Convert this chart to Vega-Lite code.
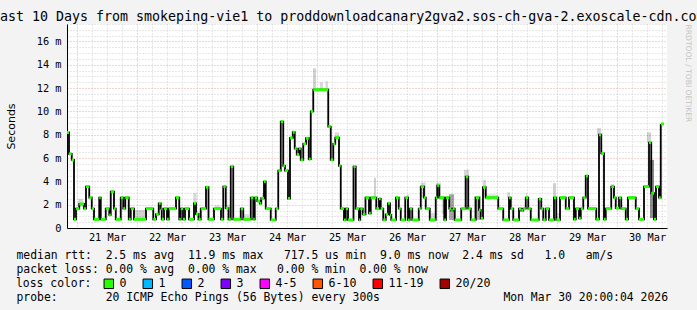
{
  "$schema": "https://vega.github.io/schema/vega-lite/v6.json",
  "autosize": {"type": "none"},
  "width": 600,
  "height": 204,
  "padding": {"left": 67, "top": 24, "right": 30, "bottom": 82},
  "background": "#f3f3f3",
  "title": {
    "text": "Last 10 Days from smokeping-vie1 to proddownloadcanary2gva2.sos-ch-gva-2.exoscale-cdn.com",
    "anchor": "start", "frame": "group", "dx": -75, "offset": -4,
    "font": "DejaVu Sans Mono", "fontSize": 13.3, "fontWeight": "normal", "color": "#000", "limit": 0
  },
  "config": {"view": {"fill": "white", "stroke": null}, "font": "DejaVu Sans Mono"},
  "datasets": {
    "med": [
      {"t0":0,"t1":0.8,"med":8.2,"loss":"0"},
      {"t0":0.8,"t1":1.9,"med":6.36,"loss":"0"},
      {"t0":1.9,"t1":2.8,"med":5.84,"loss":"0"},
      {"t0":2.8,"t1":3.6,"med":0.75,"loss":"0"},
      {"t0":3.6,"t1":4.9,"med":1.66,"loss":"0"},
      {"t0":4.9,"t1":6.8,"med":2.06,"loss":"0"},
      {"t0":6.8,"t1":7.6,"med":1.66,"loss":"0"},
      {"t0":7.6,"t1":8.9,"med":3.55,"loss":"0"},
      {"t0":8.9,"t1":9.9,"med":2.6,"loss":"0"},
      {"t0":9.9,"t1":10.8,"med":1.66,"loss":"0"},
      {"t0":10.8,"t1":12.9,"med":0.75,"loss":"0"},
      {"t0":12.9,"t1":13.5,"med":2.6,"loss":"0"},
      {"t0":13.5,"t1":15.5,"med":0.75,"loss":"0"},
      {"t0":15.5,"t1":16.9,"med":1.66,"loss":"0"},
      {"t0":16.9,"t1":17.5,"med":1.12,"loss":"0"},
      {"t0":17.5,"t1":18.8,"med":3.12,"loss":"0"},
      {"t0":18.8,"t1":19.5,"med":1.66,"loss":"0"},
      {"t0":19.5,"t1":21.5,"med":0.75,"loss":"0"},
      {"t0":21.5,"t1":22.5,"med":2.6,"loss":"0"},
      {"t0":22.5,"t1":23.3,"med":1.66,"loss":"0"},
      {"t0":23.3,"t1":24.7,"med":2.6,"loss":"0"},
      {"t0":24.7,"t1":25.5,"med":0.75,"loss":"0"},
      {"t0":25.5,"t1":26.8,"med":1.66,"loss":"0"},
      {"t0":26.8,"t1":31.6,"med":0.75,"loss":"0"},
      {"t0":31.6,"t1":34.5,"med":1.66,"loss":"0"},
      {"t0":34.5,"t1":35.6,"med":0.75,"loss":"0"},
      {"t0":35.6,"t1":36.7,"med":1.18,"loss":"0"},
      {"t0":36.7,"t1":37.5,"med":2.12,"loss":"0"},
      {"t0":37.5,"t1":37.9,"med":1.66,"loss":"0"},
      {"t0":37.9,"t1":38.8,"med":0.75,"loss":"0"},
      {"t0":38.8,"t1":40,"med":1.66,"loss":"0"},
      {"t0":40,"t1":40.7,"med":0.75,"loss":"0"},
      {"t0":40.7,"t1":43.6,"med":1.66,"loss":"0"},
      {"t0":43.6,"t1":44.9,"med":2.6,"loss":"0"},
      {"t0":44.9,"t1":45.5,"med":0.75,"loss":"0"},
      {"t0":45.5,"t1":46.4,"med":1.66,"loss":"0"},
      {"t0":46.4,"t1":47.2,"med":0.75,"loss":"0"},
      {"t0":47.2,"t1":48.8,"med":1.66,"loss":"0"},
      {"t0":48.8,"t1":50.8,"med":0.75,"loss":"0"},
      {"t0":50.8,"t1":51.6,"med":2.12,"loss":"0"},
      {"t0":51.6,"t1":52.6,"med":1.2,"loss":"0"},
      {"t0":52.6,"t1":53.5,"med":0.75,"loss":"0"},
      {"t0":53.5,"t1":55.6,"med":1.66,"loss":"0"},
      {"t0":55.6,"t1":56.6,"med":3.5,"loss":"0"},
      {"t0":56.6,"t1":58.8,"med":0.75,"loss":"0"},
      {"t0":58.8,"t1":61.6,"med":1.66,"loss":"0"},
      {"t0":61.6,"t1":62.5,"med":0.75,"loss":"0"},
      {"t0":62.5,"t1":63.5,"med":3.55,"loss":"0"},
      {"t0":63.5,"t1":64.6,"med":1.7,"loss":"0"},
      {"t0":64.6,"t1":65.5,"med":0.75,"loss":"0"},
      {"t0":65.5,"t1":66.5,"med":5.27,"loss":"0"},
      {"t0":66.5,"t1":69.5,"med":0.75,"loss":"0"},
      {"t0":69.5,"t1":70.5,"med":1.66,"loss":"0"},
      {"t0":70.5,"t1":73.5,"med":0.75,"loss":"0"},
      {"t0":73.5,"t1":74.5,"med":2.6,"loss":"0"},
      {"t0":74.5,"t1":75.1,"med":0.75,"loss":"0"},
      {"t0":75.1,"t1":76.1,"med":2.6,"loss":"0"},
      {"t0":76.1,"t1":77.2,"med":2.3,"loss":"0"},
      {"t0":77.2,"t1":77.7,"med":2.1,"loss":"0"},
      {"t0":77.7,"t1":78.8,"med":2.55,"loss":"0"},
      {"t0":78.8,"t1":79.5,"med":3.98,"loss":"0"},
      {"t0":79.5,"t1":81.5,"med":1.66,"loss":"0"},
      {"t0":81.5,"t1":83.5,"med":0.69,"loss":"0"},
      {"t0":83.5,"t1":84.5,"med":1.66,"loss":"0"},
      {"t0":84.5,"t1":85.5,"med":4.92,"loss":"0"},
      {"t0":85.5,"t1":86.5,"med":9.13,"loss":"0"},
      {"t0":86.5,"t1":87.2,"med":5.33,"loss":"0"},
      {"t0":87.2,"t1":88.4,"med":4.92,"loss":"0"},
      {"t0":88.4,"t1":89.2,"med":2.52,"loss":"0"},
      {"t0":89.2,"t1":90.3,"med":7.73,"loss":"0"},
      {"t0":90.3,"t1":91.1,"med":8.22,"loss":"0"},
      {"t0":91.1,"t1":91.9,"med":6.81,"loss":"0"},
      {"t0":91.9,"t1":92.8,"med":6.3,"loss":"0"},
      {"t0":92.8,"t1":93.5,"med":6.81,"loss":"0"},
      {"t0":93.5,"t1":94.5,"med":5.84,"loss":"0"},
      {"t0":94.5,"t1":95.6,"med":7.22,"loss":"0"},
      {"t0":95.6,"t1":96.7,"med":7.7,"loss":"0"},
      {"t0":96.7,"t1":97.5,"med":5.9,"loss":"0"},
      {"t0":97.5,"t1":98.5,"med":10.0,"loss":"0"},
      {"t0":98.5,"t1":104.5,"med":11.86,"loss":"0"},
      {"t0":104.5,"t1":105.5,"med":8.7,"loss":"0"},
      {"t0":105.5,"t1":106.5,"med":5.84,"loss":"0"},
      {"t0":106.5,"t1":107.3,"med":7.22,"loss":"0"},
      {"t0":107.3,"t1":108.8,"med":7.76,"loss":"0"},
      {"t0":108.8,"t1":109.5,"med":5.33,"loss":"0"},
      {"t0":109.5,"t1":110.8,"med":1.66,"loss":"0"},
      {"t0":110.8,"t1":111.5,"med":0.69,"loss":"0"},
      {"t0":111.5,"t1":112.4,"med":1.66,"loss":"0"},
      {"t0":112.4,"t1":114.6,"med":0.69,"loss":"0"},
      {"t0":114.6,"t1":115.5,"med":5.27,"loss":"0"},
      {"t0":115.5,"t1":116.8,"med":1.66,"loss":"0"},
      {"t0":116.8,"t1":117.3,"med":0.69,"loss":"0"},
      {"t0":117.3,"t1":118.3,"med":1.66,"loss":"0"},
      {"t0":118.3,"t1":119.4,"med":1.17,"loss":"0"},
      {"t0":119.4,"t1":120.8,"med":2.6,"loss":"0"},
      {"t0":120.8,"t1":121.5,"med":1.26,"loss":"0"},
      {"t0":121.5,"t1":123.7,"med":2.6,"loss":"0"},
      {"t0":123.7,"t1":124.8,"med":1.66,"loss":"0"},
      {"t0":124.8,"t1":125.5,"med":2.5,"loss":"0"},
      {"t0":125.5,"t1":126.5,"med":1.66,"loss":"0"},
      {"t0":126.5,"t1":127.5,"med":0.69,"loss":"0"},
      {"t0":127.5,"t1":128.4,"med":1.17,"loss":"0"},
      {"t0":128.4,"t1":129.2,"med":2.12,"loss":"0"},
      {"t0":129.2,"t1":129.7,"med":1.12,"loss":"0"},
      {"t0":129.7,"t1":131.6,"med":0.69,"loss":"0"},
      {"t0":131.6,"t1":132.7,"med":2.6,"loss":"0"},
      {"t0":132.7,"t1":133.5,"med":1.66,"loss":"0"},
      {"t0":133.5,"t1":135.3,"med":0.69,"loss":"0"},
      {"t0":135.3,"t1":136.4,"med":2.6,"loss":"0"},
      {"t0":136.4,"t1":137.1,"med":0.69,"loss":"0"},
      {"t0":137.1,"t1":138.1,"med":1.66,"loss":"0"},
      {"t0":138.1,"t1":140.7,"med":0.69,"loss":"0"},
      {"t0":140.7,"t1":141.5,"med":1.66,"loss":"0"},
      {"t0":141.5,"t1":142.8,"med":3.55,"loss":"0"},
      {"t0":142.8,"t1":143.5,"med":2.6,"loss":"0"},
      {"t0":143.5,"t1":145.1,"med":1.66,"loss":"0"},
      {"t0":145.1,"t1":147.5,"med":0.69,"loss":"0"},
      {"t0":147.5,"t1":148.1,"med":2.6,"loss":"0"},
      {"t0":148.1,"t1":148.9,"med":3.64,"loss":"0"},
      {"t0":148.9,"t1":150.9,"med":2.6,"loss":"0"},
      {"t0":150.9,"t1":151.6,"med":0.69,"loss":"0"},
      {"t0":151.6,"t1":152.9,"med":2.6,"loss":"0"},
      {"t0":152.9,"t1":153.7,"med":1.66,"loss":"0"},
      {"t0":153.7,"t1":154.3,"med":1.5,"loss":"0"},
      {"t0":154.3,"t1":155.1,"med":1.66,"loss":"0"},
      {"t0":155.1,"t1":157.7,"med":0.69,"loss":"0"},
      {"t0":157.7,"t1":159.5,"med":1.66,"loss":"0"},
      {"t0":159.5,"t1":160.5,"med":4.4,"loss":"0"},
      {"t0":160.5,"t1":161.5,"med":1.66,"loss":"0"},
      {"t0":161.5,"t1":163.5,"med":0.69,"loss":"0"},
      {"t0":163.5,"t1":164.8,"med":2.6,"loss":"0"},
      {"t0":164.8,"t1":165.5,"med":1.55,"loss":"0"},
      {"t0":165.5,"t1":166.4,"med":0.83,"loss":"0"},
      {"t0":166.4,"t1":167.5,"med":3.5,"loss":"0"},
      {"t0":167.5,"t1":172.5,"med":2.6,"loss":"0"},
      {"t0":172.5,"t1":174.5,"med":1.66,"loss":"0"},
      {"t0":174.5,"t1":176.8,"med":0.69,"loss":"0"},
      {"t0":176.8,"t1":177.5,"med":2.6,"loss":"0"},
      {"t0":177.5,"t1":178.5,"med":1.66,"loss":"0"},
      {"t0":178.5,"t1":180.8,"med":0.69,"loss":"0"},
      {"t0":180.8,"t1":181.7,"med":1.66,"loss":"0"},
      {"t0":181.7,"t1":182.5,"med":1.5,"loss":"0"},
      {"t0":182.5,"t1":183.5,"med":1.66,"loss":"0"},
      {"t0":183.5,"t1":184.5,"med":2.6,"loss":"0"},
      {"t0":184.5,"t1":185.5,"med":1.66,"loss":"0"},
      {"t0":185.5,"t1":188.7,"med":0.69,"loss":"0"},
      {"t0":188.7,"t1":189.7,"med":2.5,"loss":"0"},
      {"t0":189.7,"t1":190.5,"med":1.66,"loss":"0"},
      {"t0":190.5,"t1":191.5,"med":0.69,"loss":"0"},
      {"t0":191.5,"t1":192.8,"med":1.66,"loss":"0"},
      {"t0":192.8,"t1":194.8,"med":0.69,"loss":"0"},
      {"t0":194.8,"t1":195.7,"med":2.6,"loss":"0"},
      {"t0":195.7,"t1":197.2,"med":0.69,"loss":"0"},
      {"t0":197.2,"t1":199.5,"med":2.6,"loss":"0"},
      {"t0":199.5,"t1":200.8,"med":1.66,"loss":"0"},
      {"t0":200.8,"t1":202.8,"med":2.6,"loss":"0"},
      {"t0":202.8,"t1":203.5,"med":0.75,"loss":"0"},
      {"t0":203.5,"t1":204.8,"med":1.66,"loss":"0"},
      {"t0":204.8,"t1":205.5,"med":0.83,"loss":"0"},
      {"t0":205.5,"t1":206.5,"med":1.66,"loss":"0"},
      {"t0":206.5,"t1":207.5,"med":2.6,"loss":"0"},
      {"t0":207.5,"t1":208.4,"med":4.47,"loss":"0"},
      {"t0":208.4,"t1":211.7,"med":1.66,"loss":"0"},
      {"t0":211.7,"t1":212.8,"med":0.75,"loss":"0"},
      {"t0":212.8,"t1":213.7,"med":8.0,"loss":"0"},
      {"t0":213.7,"t1":214.8,"med":6.4,"loss":"0"},
      {"t0":214.8,"t1":215.5,"med":0.75,"loss":"0"},
      {"t0":215.5,"t1":217.7,"med":1.66,"loss":"0"},
      {"t0":217.7,"t1":218.8,"med":3.55,"loss":"0"},
      {"t0":218.8,"t1":219.5,"med":2.6,"loss":"0"},
      {"t0":219.5,"t1":220.8,"med":1.7,"loss":"0"},
      {"t0":220.8,"t1":221.7,"med":2.6,"loss":"0"},
      {"t0":221.7,"t1":223.5,"med":1.66,"loss":"0"},
      {"t0":223.5,"t1":224.4,"med":0.75,"loss":"0"},
      {"t0":224.4,"t1":227.5,"med":2.6,"loss":"0"},
      {"t0":227.5,"t1":228.8,"med":1.66,"loss":"0"},
      {"t0":228.8,"t1":230.8,"med":0.75,"loss":"0"},
      {"t0":230.8,"t1":232.8,"med":3.55,"loss":"0"},
      {"t0":232.8,"t1":233.7,"med":7.33,"loss":"0"},
      {"t0":233.7,"t1":234.8,"med":2.98,"loss":"0"},
      {"t0":234.8,"t1":235.6,"med":0.75,"loss":"0"},
      {"t0":235.6,"t1":236.8,"med":3.55,"loss":"0"},
      {"t0":236.8,"t1":237.5,"med":2.6,"loss":"0"},
      {"t0":237.5,"t1":238.8,"med":8.93,"loss":"0"}
    ],
    "smoke": [
      {"t0":4.4,"t1":6.4,"lo":1.8,"hi":2.5,"shade":0.15},
      {"t0":26.8,"t1":31.6,"lo":0.75,"hi":1.55,"shade":0.18},
      {"t0":50.5,"t1":51.9,"lo":1.2,"hi":3.0,"shade":0.15},
      {"t0":59.2,"t1":61.2,"lo":1.66,"hi":1.95,"shade":0.12},
      {"t0":63.2,"t1":65.2,"lo":1.7,"hi":2.0,"shade":0.12},
      {"t0":70.8,"t1":72.8,"lo":0.75,"hi":1.2,"shade":0.12},
      {"t0":78,"t1":79.2,"lo":2.6,"hi":3.0,"shade":0.15},
      {"t0":98.4,"t1":99.6,"lo":11.86,"hi":13.7,"shade":0.18},
      {"t0":101.2,"t1":102.4,"lo":11.86,"hi":12.5,"shade":0.15},
      {"t0":103.4,"t1":104.4,"lo":11.86,"hi":12.6,"shade":0.15},
      {"t0":107.2,"t1":108.8,"lo":7.76,"hi":8.2,"shade":0.15},
      {"t0":122.8,"t1":123.6,"lo":2.6,"hi":4.3,"shade":0.18},
      {"t0":136,"t1":136.8,"lo":2.0,"hi":2.9,"shade":0.12},
      {"t0":141.5,"t1":143.5,"lo":2.6,"hi":3.9,"shade":0.15},
      {"t0":144.8,"t1":147.6,"lo":0.69,"hi":1.3,"shade":0.15},
      {"t0":147.5,"t1":149.6,"lo":2.6,"hi":3.9,"shade":0.15},
      {"t0":149.9,"t1":151.2,"lo":1.2,"hi":2.6,"shade":0.15},
      {"t0":152.8,"t1":154.8,"lo":0.69,"hi":2.9,"shade":0.35},
      {"t0":158.8,"t1":160.8,"lo":1.66,"hi":5.0,"shade":0.15},
      {"t0":162.8,"t1":165.6,"lo":0.7,"hi":2.7,"shade":0.3},
      {"t0":166.4,"t1":167.6,"lo":2.6,"hi":4.1,"shade":0.15},
      {"t0":167.6,"t1":172.4,"lo":2.6,"hi":2.9,"shade":0.12},
      {"t0":176,"t1":177.2,"lo":2.6,"hi":3.07,"shade":0.15},
      {"t0":183.5,"t1":184.1,"lo":2.6,"hi":3.0,"shade":0.15},
      {"t0":194.4,"t1":195.6,"lo":2.6,"hi":3.84,"shade":0.18},
      {"t0":195.6,"t1":197.6,"lo":0.69,"hi":1.3,"shade":0.12},
      {"t0":212,"t1":213.6,"lo":8.0,"hi":8.56,"shade":0.18},
      {"t0":217.6,"t1":218.8,"lo":3.55,"hi":3.78,"shade":0.15},
      {"t0":232,"t1":233.6,"lo":7.33,"hi":8.2,"shade":0.18},
      {"t0":233.2,"t1":234.8,"lo":0.85,"hi":5.84,"shade":0.45}
    ]
  },
  "resolve": {"axis": {"y": "independent"}},
  "encoding": {
    "x": {
      "field": "t0", "type": "quantitative",
      "scale": {"domain": [0, 240], "nice": false},
      "axis": {
        "orient": "bottom", "grid": true,
        "values": [4,10,16,22,28,34,40,46,52,58,64,70,76,82,88,94,100,106,112,118,124,130,136,142,148,154,160,166,172,178,184,190,196,202,208,214,220,226,232,238],
        "labelExpr": "(datum.value - 16) % 24 === 0 ? (21 + (datum.value - 16) / 24) + ' Mar' : ''",
        "gridColor": {"condition": {"test": "(datum.value - 4) % 24 === 0", "value": "#e8a6a6"}, "value": "#d0d0d0"},
        "gridDash": [1, 2],
        "ticks": false,
        "domainColor": "#000000",
        "labelFont": "DejaVu Sans Mono", "labelFontSize": 10.3, "labelColor": "#000000",
        "labelPadding": 4, "labelOverlap": false, "labelFlush": false,
        "title": [
          "median rtt:\u00a0\u00a02.5 ms avg\u00a0\u00a011.9 ms max\u00a0\u00a0\u00a0717.5 us min\u00a0\u00a09.0 ms now\u00a0\u00a02.4 ms sd\u00a0\u00a0\u00a01.0\u00a0\u00a0\u00a0am/s",
          "packet loss: 0.00 % avg\u00a0\u00a00.00 % max\u00a0\u00a0\u00a00.00 % min\u00a0\u00a00.00 % now",
          "\u200b",
          "probe:\u00a0\u00a0\u00a0\u00a0\u00a0\u00a0\u00a020 ICMP Echo Pings (56 Bytes) every 300s\u00a0\u00a0\u00a0\u00a0\u00a0\u00a0\u00a0\u00a0\u00a0\u00a0\u00a0\u00a0\u00a0\u00a0\u00a0\u00a0\u00a0\u00a0Mon Mar 30 20:00:04 2026"
        ],
        "titleFont": "DejaVu Sans Mono", "titleFontSize": 11.4, "titleFontWeight": "normal", "titleColor": "#000000",
        "titleAnchor": "start", "titleAlign": "left", "titleBaseline": "alphabetic",
        "titleX": -51, "titleY": 30, "titleLineHeight": 14, "titleLimit": 2000
      }
    }
  },
  "layer": [
    {
      "data": {"name": "smoke"},
      "mark": {"type": "rect", "fill": "#000"},
      "encoding": {
        "x2": {"field": "t1"},
        "y": {"field": "lo", "type": "quantitative", "scale": {"domain": [0, 17.5], "nice": false}, "axis": null},
        "y2": {"field": "hi"},
        "opacity": {"field": "shade", "type": "quantitative", "scale": null}
      }
    },
    {
      "data": {"name": "med"},
      "mark": {"type": "line", "interpolate": "step-after", "color": "#000000", "strokeWidth": 1.8},
      "encoding": {
        "y": {
          "field": "med", "type": "quantitative",
          "axis": {
            "orient": "left", "grid": true,
            "values": [0,0.5,1,1.5,2,2.5,3,3.5,4,4.5,5,5.5,6,6.5,7,7.5,8,8.5,9,9.5,10,10.5,11,11.5,12,12.5,13,13.5,14,14.5,15,15.5,16,16.5,17,17.5],
            "labelExpr": "datum.value === 0 ? '0' : (datum.value % 2 === 0 ? datum.value + ' m' : '')",
            "gridColor": {"condition": {"test": "datum.value % 2 === 0", "value": "#e8a6a6"}, "value": "#d0d0d0"},
            "gridDash": [1, 2],
            "ticks": false,
            "domainColor": "#000000",
            "labelFont": "DejaVu Sans Mono", "labelFontSize": 10.3, "labelColor": "#000000",
            "labelPadding": 6, "labelOverlap": false, "labelFlush": false,
            "title": "Seconds", "titleFont": "DejaVu Sans", "titleFontSize": 11, "titleFontWeight": "normal", "titleColor": "#000000",
            "titlePadding": 20
          }
        }
      }
    },
    {
      "data": {"name": "med"},
      "mark": {"type": "rect", "height": 3},
      "encoding": {
        "x2": {"field": "t1"},
        "y": {
          "field": "med", "type": "quantitative",
          "axis": {
            "orient": "right", "labels": false, "ticks": false, "domain": false, "grid": false,
            "title": "RRDTOOL / TOBI OETIKER", "titleFont": "DejaVu Sans", "titleFontSize": 7.6, "titleFontWeight": "normal",
            "titleColor": "#c4c4c4", "titleAnchor": "end", "titleAlign": "left", "titleAngle": 90, "titlePadding": 16
          }
        },
        "color": {
          "field": "loss", "type": "nominal",
          "scale": {
            "domain": ["0", "1", "2", "3", "4-5", "6-10", "11-19", "20/20"],
            "range": ["#26ff00", "#00b8ff", "#0059ff", "#7e00ff", "#ff00ff", "#ff5500", "#ff0000", "#a10000"]
          },
          "legend": {
            "orient": "none", "legendX": -51, "legendY": 254, "direction": "horizontal", "gridAlign": "none",
            "title": "loss color:", "titleOrient": "left", "titleFont": "DejaVu Sans Mono", "titleFontSize": 11.4,
            "titleFontWeight": "normal", "titleColor": "#000000", "titlePadding": 11,
            "labelFont": "DejaVu Sans Mono", "labelFontSize": 11.6, "labelColor": "#000000", "labelOffset": 5,
            "symbolType": "square", "symbolSize": 90, "symbolStrokeColor": "#000000", "symbolStrokeWidth": 1,
            "symbolOpacity": 1, "columnPadding": 14, "padding": 0
          }
        }
      }
    }
  ]
}
